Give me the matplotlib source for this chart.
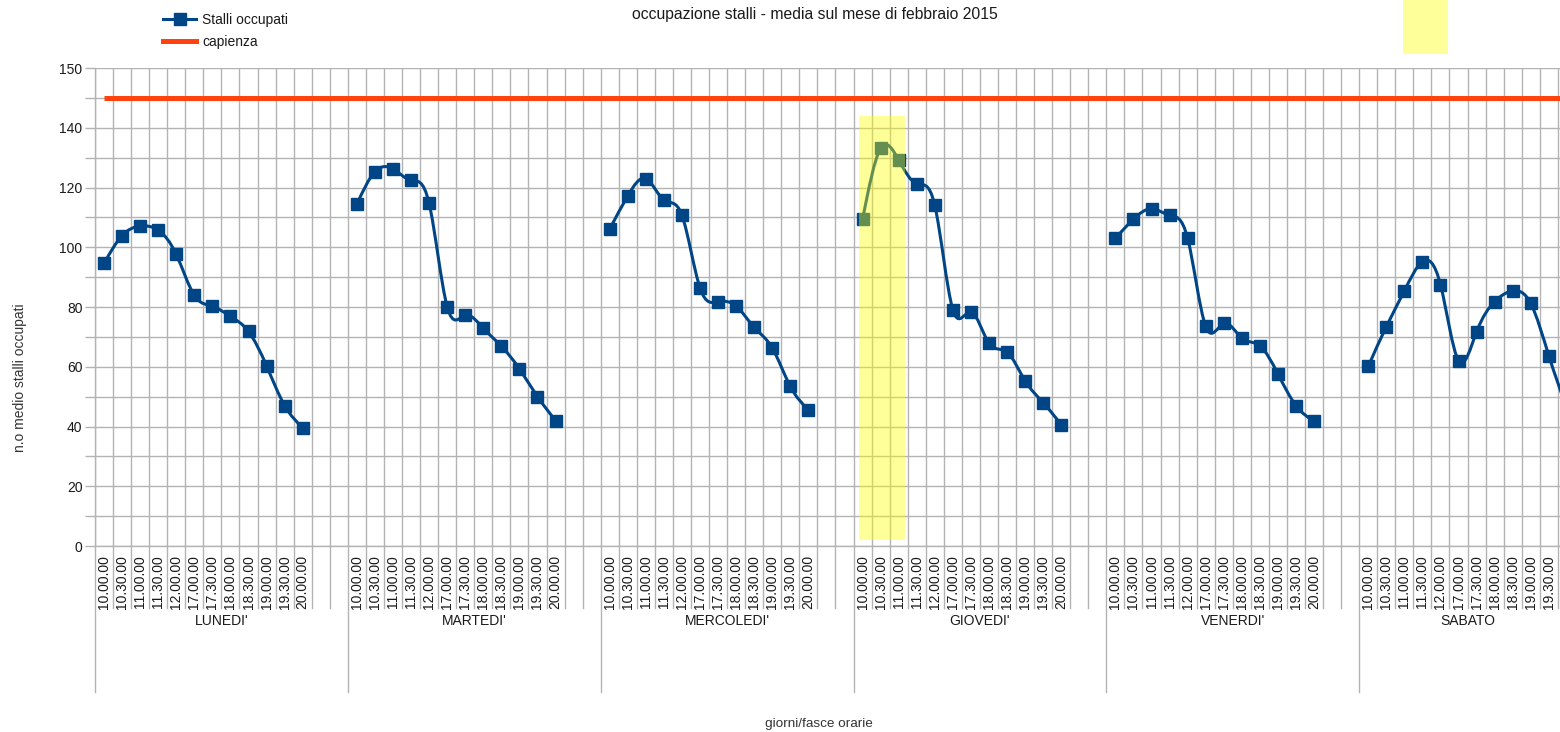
import numpy as np
import matplotlib
matplotlib.use("Agg")
import matplotlib.pyplot as plt
from matplotlib.path import Path
from matplotlib.patches import PathPatch, Rectangle
from matplotlib.lines import Line2D
from matplotlib import transforms

plt.rcParams['font.family'] = ['Liberation Sans', 'DejaVu Sans']

giorni = ["LUNEDI'", "MARTEDI'", "MERCOLEDI'", "GIOVEDI'", "VENERDI'", "SABATO"]
fasce = ["10.00.00", "10.30.00", "11.00.00", "11.30.00", "12.00.00", "17.00.00",
         "17.30.00", "18.00.00", "18.30.00", "19.00.00", "19.30.00", "20.00.00"]

lunedi = [94.6, 103.9, 107.1, 105.7, 97.6, 83.9, 80.2, 76.9, 71.8, 60.3, 47.0, 39.6]
martedi = [114.4, 125.3, 126.2, 122.4, 114.7, 80.1, 77.2, 72.9, 66.9, 59.3, 50.0, 42.0]
mercoledi = [106.1, 117.2, 123.0, 115.8, 110.7, 86.4, 81.8, 80.3, 73.2, 66.3, 53.4, 45.6]
giovedi = [109.3, 133.1, 129.2, 121.2, 114.0, 79.1, 78.4, 67.9, 64.9, 55.3, 48.0, 40.6]
venerdi = [103.0, 109.4, 112.9, 110.7, 103.0, 73.5, 74.5, 69.6, 67.0, 57.6, 47.0, 41.7]
sabato = [60.1, 73.4, 85.4, 95.2, 87.5, 62.0, 71.7, 81.8, 85.4, 81.2, 63.7, 46.0]
serie = [lunedi, martedi, mercoledi, giovedi, venerdi, sabato]

capienza = 150
ytick_vals = [0, 20, 40, 60, 80, 100, 120, 140, 160]
ytick_lab = ["0", "20", "40", "60", "80", "100", "120", "140", "150"]

BLU = '#004586'
ROSSO = '#ff420e'
GRIGIO = '#b3b3b3'
TESTO = '#1a1a1a'

W, H = 1560, 732
SLOT = 14   # 12 fasce + 2 vuote per ogni giorno
CAT_PX = 18.06


def fy(px):
    return 1 - px / H


def spline_path(xs, ys):
    # spline cubica naturale, disegnata come curve di bezier
    xs = np.asarray(xs, float)
    ys = np.asarray(ys, float)
    n = len(xs)
    h = np.diff(xs)
    A = np.zeros((n, n))
    b = np.zeros(n)
    A[0, 0] = 1
    A[-1, -1] = 1
    for i in range(1, n - 1):
        A[i, i - 1] = h[i - 1]
        A[i, i] = 2 * (h[i - 1] + h[i])
        A[i, i + 1] = h[i]
        b[i] = 6 * ((ys[i + 1] - ys[i]) / h[i] - (ys[i] - ys[i - 1]) / h[i - 1])
    M = np.linalg.solve(A, b)
    m = np.zeros(n)
    for i in range(n - 1):
        m[i] = (ys[i + 1] - ys[i]) / h[i] - h[i] * (2 * M[i] + M[i + 1]) / 6
    m[-1] = (ys[-1] - ys[-2]) / h[-1] + h[-1] * (M[-2] + 2 * M[-1]) / 6

    verts = [(xs[0], ys[0])]
    codes = [Path.MOVETO]
    for i in range(n - 1):
        d = h[i] / 3
        verts += [(xs[i] + d, ys[i] + m[i] * d),
                  (xs[i + 1] - d, ys[i + 1] - m[i + 1] * d),
                  (xs[i + 1], ys[i + 1])]
        codes += [Path.CURVE4] * 3
    return Path(verts, codes)


def main():
    n_cat = SLOT * (len(giorni) - 1) + len(fasce)

    fig = plt.figure(figsize=(W / 100, H / 100), dpi=100)
    ax = fig.add_axes([95 / W, fy(546), n_cat * CAT_PX / W, (546 - 68) / H])

    ax.set_xlim(-0.5, n_cat - 0.5)
    ax.set_ylim(0, 160)

    # griglia
    ax.set_yticks(ytick_vals)
    ax.set_yticklabels(ytick_lab)
    ax.set_yticks(np.arange(10, 160, 20), minor=True)
    ax.grid(axis='y', which='both', color=GRIGIO, lw=1.0, zorder=0)
    ax.vlines(np.arange(n_cat + 1) - 0.5, 0, 160, color=GRIGIO, lw=1.0, zorder=0)
    ax.set_xticks([])
    ax.tick_params(axis='y', which='both', direction='out', length=7, width=1,
                   color=GRIGIO, labelsize=10, labelcolor=TESTO, pad=2)
    for s in ['top', 'right']:
        ax.spines[s].set_visible(False)
    for s in ['left', 'bottom']:
        ax.spines[s].set_color(GRIGIO)
        ax.spines[s].set_linewidth(1.0)

    # capienza
    cap_x = np.arange(n_cat)
    ax.plot(cap_x, [capienza] * len(cap_x), color=ROSSO, lw=3.6, zorder=2,
            solid_capstyle='butt')

    # stalli occupati
    for g, vals in enumerate(serie):
        xs = g * SLOT + np.arange(len(vals))
        ax.add_patch(PathPatch(spline_path(xs, vals), fill=False, edgecolor=BLU,
                               lw=2.2, zorder=3))
        ax.plot(xs, vals, linestyle='none', marker='s', ms=8.5, color=BLU, zorder=4)

    # etichette asse x a due livelli
    tr = transforms.blended_transform_factory(ax.transData, fig.transFigure)
    for k in range(n_cat + 1):
        if k % SLOT == 0:
            ax.plot([k - 0.5, k - 0.5], [fy(546), fy(692)], color=GRIGIO, lw=1.0,
                    transform=tr, clip_on=False)
        else:
            ax.plot([k - 0.5, k - 0.5], [fy(546), fy(608)], color=GRIGIO, lw=1.0,
                    transform=tr, clip_on=False)
    for g, giorno in enumerate(giorni):
        for i, f in enumerate(fasce):
            # il grafico originale e' tagliato a destra: salto le etichette fuori
            xpix = ax.transData.transform((g * SLOT + i, 0))[0]
            if xpix + 8 > W:
                continue
            ax.text(g * SLOT + i, fy(555), f, rotation=90, ha='center', va='top',
                    fontsize=10, color=TESTO, transform=tr, clip_on=False)
        if g < len(giorni) - 1:
            centro = g * SLOT + (SLOT - 1) / 2
        else:
            centro = g * SLOT + (len(fasce) - 1) / 2
        ax.text(centro, fy(621), giorno, ha='center', va='center', fontsize=10,
                color=TESTO, transform=tr)

    # evidenziazioni gialle
    ax.add_patch(Rectangle((41.8, 2.0), 2.53, 142.1, facecolor='#ffff00', alpha=0.4,
                           lw=0, zorder=5))
    ax.add_patch(Rectangle((71.92, fy(54)), 2.47, 54 / H, facecolor='#ffff00', alpha=0.4,
                           lw=0, transform=tr, clip_on=False, zorder=5))

    # testi
    fig.text(815 / W, fy(14), "occupazione stalli - media sul mese di febbraio 2015",
             ha='center', va='center', fontsize=11.3, color=TESTO)
    fig.text(20 / W, fy(378), "n.o medio stalli occupati", rotation=90,
             ha='center', va='center', fontsize=10, color='#333333')
    fig.text(819 / W, fy(724), "giorni/fasce orarie", ha='center', va='center',
             fontsize=9.7, color='#333333')

    handles = [Line2D([], [], color=BLU, lw=2.2, marker='s', ms=8.5),
               Line2D([], [], color=ROSSO, lw=3.6)]
    fig.legend(handles, ["Stalli occupati", "capienza"], loc='upper left',
               bbox_to_anchor=(163 / W, fy(13)), frameon=False, fontsize=10,
               handlelength=2.4, handletextpad=0.4, labelspacing=0.6,
               borderpad=0, borderaxespad=0, labelcolor=TESTO)

    fig.savefig("out.png", dpi=100)


if __name__ == '__main__':
    main()
